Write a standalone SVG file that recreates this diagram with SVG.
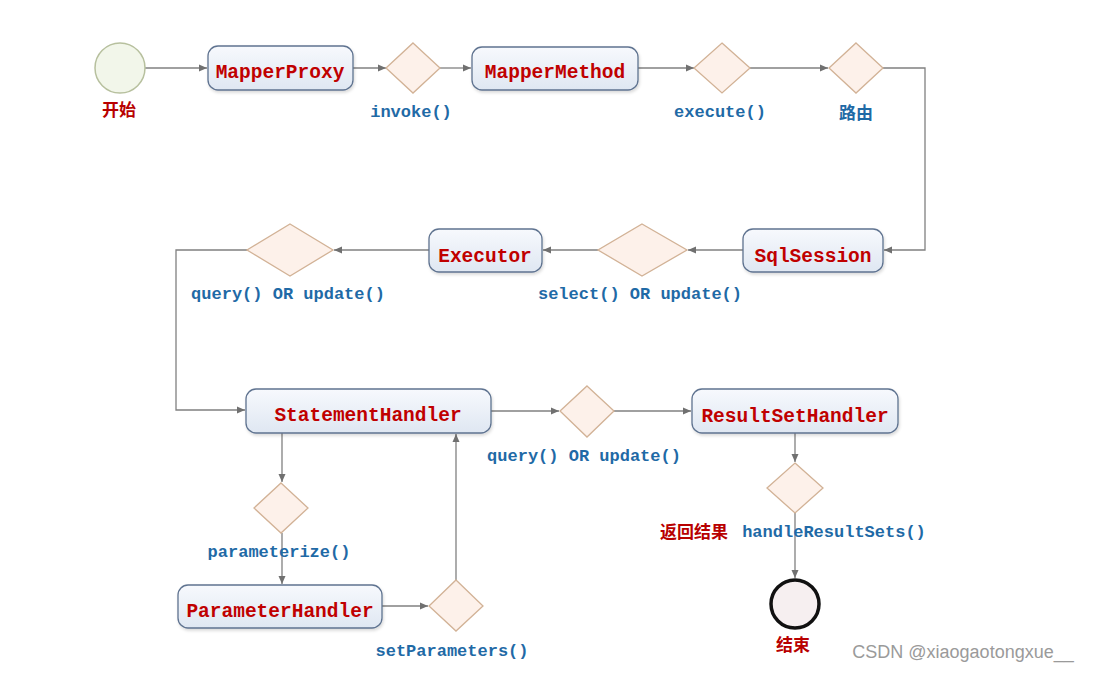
<svg xmlns="http://www.w3.org/2000/svg" width="1094" height="680" viewBox="0 0 1094 680">
<style>
.box{fill:url(#boxg);stroke:#5f7390;stroke-width:1.3;filter:url(#sh)}
.dia{fill:#fdf1ea;stroke:#d2b296;stroke-width:1.3}
.nt{font-family:"Liberation Mono","DejaVu Sans Mono",monospace;font-weight:bold;font-size:19.5px;fill:#c00000;text-anchor:middle}
.lb{font-family:"Liberation Mono","DejaVu Sans Mono",monospace;font-weight:bold;font-size:17px;fill:#1f6aa6;text-anchor:middle}
.cn{font-family:"Noto Sans CJK SC",sans-serif;font-weight:bold;font-size:17px;text-anchor:middle}
.red{fill:#b80000}
.blue{fill:#1f6aa6}
.con{fill:none;stroke:#808080;stroke-width:1.3}
</style>
<defs>
<linearGradient id="boxg" x1="0" y1="0" x2="0" y2="1">
<stop offset="0" stop-color="#f7f9fd"/>
<stop offset="1" stop-color="#dfe7f2"/>
</linearGradient>
<filter id="sh" x="-10%" y="-20%" width="120%" height="150%">
<feDropShadow dx="1" dy="2" stdDeviation="1.5" flood-color="#000" flood-opacity="0.15"/>
</filter>
<marker id="ar" markerWidth="10" markerHeight="10" refX="9" refY="5" orient="auto" markerUnits="userSpaceOnUse">
<path d="M1,1.5 L9,5 L1,8.5 Z" fill="#707070"/>
</marker>
</defs>
<rect width="1094" height="680" fill="#ffffff"/>

<g id="connectors">
<path class="con" marker-end="url(#ar)" d="M145,68 H207"/>
<path class="con" marker-end="url(#ar)" d="M353,68 H386"/>
<path class="con" marker-end="url(#ar)" d="M440,68 H471"/>
<path class="con" marker-end="url(#ar)" d="M638,68 H694"/>
<path class="con" marker-end="url(#ar)" d="M750,68 H828"/>
<path class="con" marker-end="url(#ar)" d="M883,68 H925 V250 H884"/>
<path class="con" marker-end="url(#ar)" d="M743,250 H688"/>
<path class="con" marker-end="url(#ar)" d="M598,250 H543"/>
<path class="con" marker-end="url(#ar)" d="M429,250 H334"/>
<path class="con" marker-end="url(#ar)" d="M247,250 H176 V410 H245"/>
<path class="con" marker-end="url(#ar)" d="M282,433 V482"/>
<path class="con" marker-end="url(#ar)" d="M282,533 V584"/>
<path class="con" marker-end="url(#ar)" d="M382,606 H428"/>
<path class="con" marker-end="url(#ar)" d="M456,580 V434"/>
<path class="con" marker-end="url(#ar)" d="M491,411 H559"/>
<path class="con" marker-end="url(#ar)" d="M614,411 H691"/>
<path class="con" marker-end="url(#ar)" d="M795,433 V462"/>
<path class="con" marker-end="url(#ar)" d="M795,513 V578"/>
</g>

<g id="start">
<circle cx="120" cy="68" r="25" fill="#f2f6ea" stroke="#b7c09e" stroke-width="1.5"/>
<text class="cn red" x="119" y="116">开始</text>
</g>

<g id="mapperProxy">
<rect class="box" x="208" y="46" width="145" height="44" rx="10"/>
<text class="nt" x="280" y="78">MapperProxy</text>
</g>

<g id="invoke">
<polygon class="dia" points="413,43 440,68 413,93 386,68"/>
<text class="lb" x="411" y="117">invoke()</text>
</g>

<g id="mapperMethod">
<rect class="box" x="472" y="47" width="166" height="43" rx="10"/>
<text class="nt" x="555" y="78">MapperMethod</text>
</g>

<g id="execute">
<polygon class="dia" points="722,43 750,68 722,93 694,68"/>
<text class="lb" x="720" y="117">execute()</text>
</g>

<g id="route">
<polygon class="dia" points="856,43 883,68 856,93 829,68"/>
<text class="cn blue" x="856" y="119">路由</text>
</g>

<g id="sqlSession">
<rect class="box" x="743" y="229" width="140" height="43" rx="10"/>
<text class="nt" x="813" y="262">SqlSession</text>
</g>

<g id="selectOrUpdate">
<polygon class="dia" points="642,224 687,250 642,276 598,250"/>
<text class="lb" x="640" y="299">select() OR update()</text>
</g>

<g id="executor">
<rect class="box" x="429" y="229" width="113" height="43" rx="10"/>
<text class="nt" x="485" y="262">Executor</text>
</g>

<g id="queryOrUpdate1">
<polygon class="dia" points="290,224 333,250 290,276 247,250"/>
<text class="lb" x="288" y="299">query() OR update()</text>
</g>

<g id="statementHandler">
<rect class="box" x="246" y="389" width="245" height="44" rx="10"/>
<text class="nt" x="368" y="421">StatementHandler</text>
</g>

<g id="parameterize">
<polygon class="dia" points="281,483 308,508 281,533 254,508"/>
<text class="lb" x="279" y="557">parameterize()</text>
</g>

<g id="parameterHandler">
<rect class="box" x="178" y="585" width="204" height="43" rx="10"/>
<text class="nt" x="280" y="617">ParameterHandler</text>
</g>

<g id="setParameters">
<polygon class="dia" points="456,580 483,606 456,631 429,606"/>
<text class="lb" x="452" y="656">setParameters()</text>
</g>

<g id="queryOrUpdate2">
<polygon class="dia" points="587,386 614,411 587,437 560,411"/>
<text class="lb" x="584" y="461">query() OR update()</text>
</g>

<g id="resultSetHandler">
<rect class="box" x="692" y="389" width="206" height="44" rx="10"/>
<text class="nt" x="795" y="422">ResultSetHandler</text>
</g>

<g id="handleResultSets">
<polygon class="dia" points="795,463 823,488 795,513 767,488"/>
<text class="cn red" x="694" y="538">返回结果</text>
<text class="lb" x="834" y="537">handleResultSets()</text>
</g>

<g id="end">
<circle cx="795" cy="604" r="24" fill="#f6eff0" stroke="#111" stroke-width="3.5"/>
<text class="cn red" x="793" y="651">结束</text>
</g>

<text x="963" y="658" text-anchor="middle" font-family="Liberation Sans,Arial,sans-serif" font-size="18" fill="#9a9a9a">CSDN @xiaogaotongxue__</text>
</svg>
